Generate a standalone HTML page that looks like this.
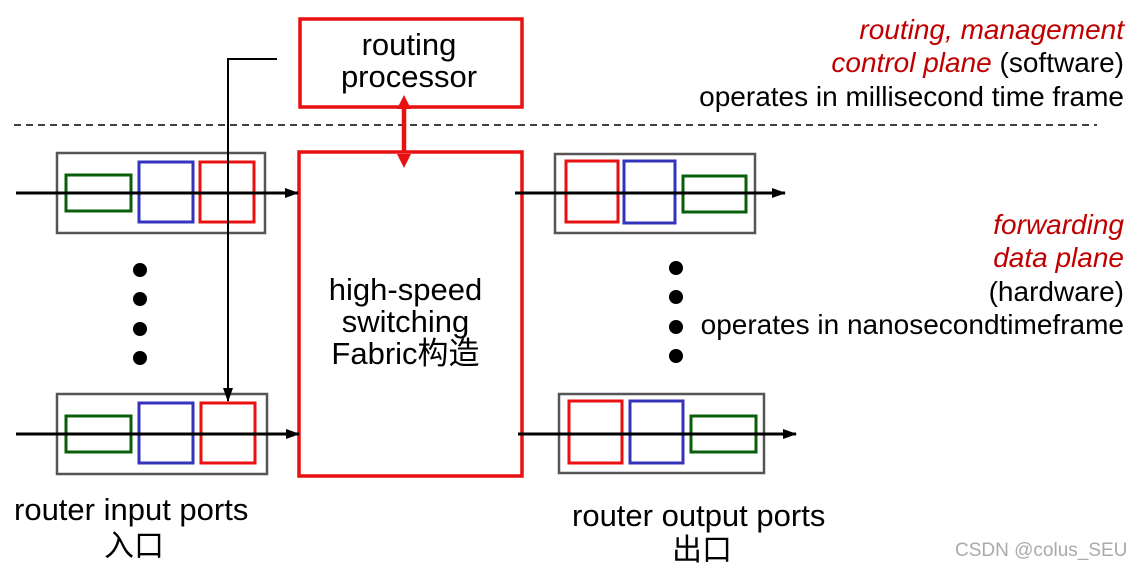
<!DOCTYPE html>
<html><head><meta charset="utf-8"><style>
body{margin:0;background:#fff;width:1143px;height:571px;overflow:hidden;font-family:"Liberation Sans","Noto Sans CJK SC",sans-serif;}
svg{position:absolute;left:0;top:0}
.t{position:absolute;font-size:28px;color:#000;white-space:nowrap;line-height:1}
.r{right:19px;text-align:right}
.i{color:#c00000;font-style:italic}
</style></head><body>
<svg width="1143" height="571">
<defs><marker id="a" markerWidth="14" markerHeight="14" refX="13" refY="7" orient="auto" markerUnits="userSpaceOnUse"><path d="M0,2 L14,7 L0,12z" fill="#000"/></marker></defs>
<line x1="14" y1="125" x2="1097" y2="125" stroke="#000" stroke-width="1.5" stroke-dasharray="7,5"/>
<rect x="300" y="19" width="222" height="88" fill="none" stroke="#e81010" stroke-width="3.5"/>
<rect x="299" y="152" width="223" height="324" fill="none" stroke="#e81010" stroke-width="3.5"/>
<line x1="404" y1="108" x2="404" y2="152" stroke="#e81010" stroke-width="4.5"/>
<path d="M397,109 L404,95 L411,109z M397,154 L404,168 L411,154z" fill="#e81010"/>
<rect x="57" y="153" width="208" height="80" fill="none" stroke="#555" stroke-width="2.5"/>
<rect x="66" y="175" width="65" height="36" fill="none" stroke="#0a5e0a" stroke-width="3"/>
<rect x="139" y="162" width="54" height="60" fill="none" stroke="#3333bb" stroke-width="3"/>
<rect x="200" y="162" width="54" height="60" fill="none" stroke="#e81010" stroke-width="3"/>
<rect x="57" y="394" width="210" height="80" fill="none" stroke="#555" stroke-width="2.5"/>
<rect x="66" y="416" width="65" height="36" fill="none" stroke="#0a5e0a" stroke-width="3"/>
<rect x="139" y="403" width="54" height="60" fill="none" stroke="#3333bb" stroke-width="3"/>
<rect x="201" y="403" width="54" height="60" fill="none" stroke="#e81010" stroke-width="3"/>
<line x1="16" y1="193" x2="298" y2="193" stroke="#000" stroke-width="3" marker-end="url(#a)"/>
<line x1="16" y1="434" x2="299" y2="434" stroke="#000" stroke-width="3" marker-end="url(#a)"/>
<polyline points="277,59 228,59 228,401" fill="none" stroke="#000" stroke-width="2" marker-end="url(#a)"/>
<rect x="555" y="154" width="200" height="79" fill="none" stroke="#555" stroke-width="2.5"/>
<rect x="566" y="161" width="52" height="61" fill="none" stroke="#e81010" stroke-width="3"/>
<rect x="624" y="161" width="51" height="62" fill="none" stroke="#3333bb" stroke-width="3"/>
<rect x="683" y="176" width="63" height="36" fill="none" stroke="#0a5e0a" stroke-width="3"/>
<rect x="559" y="394" width="205" height="79" fill="none" stroke="#555" stroke-width="2.5"/>
<rect x="569" y="401" width="53" height="62" fill="none" stroke="#e81010" stroke-width="3"/>
<rect x="630" y="401" width="53" height="62" fill="none" stroke="#3333bb" stroke-width="3"/>
<rect x="691" y="416" width="65" height="36" fill="none" stroke="#0a5e0a" stroke-width="3"/>
<line x1="515" y1="193" x2="785" y2="193" stroke="#000" stroke-width="3" marker-end="url(#a)"/>
<line x1="518" y1="434" x2="796" y2="434" stroke="#000" stroke-width="3" marker-end="url(#a)"/>
<g fill="#000"><circle cx="140" cy="270" r="7"/><circle cx="140" cy="299" r="7"/><circle cx="140" cy="329" r="7"/><circle cx="140" cy="358" r="7"/>
<circle cx="676" cy="268" r="7"/><circle cx="676" cy="297" r="7"/><circle cx="676" cy="327" r="7"/><circle cx="676" cy="356" r="7"/></g>
</svg>
<div class="t" style="left:300px;width:218px;text-align:center;top:29px;line-height:32px;font-size:31px">routing<br>processor</div>
<div class="t" style="left:299px;width:213px;text-align:center;top:274px;line-height:32px;font-size:31px">high-speed<br>switching<br>Fabric构造</div>
<div class="t r i" style="top:16px">routing, management</div>
<div class="t r" style="top:49px"><span class="i">control plane</span> (software)</div>
<div class="t r" style="top:83px">operates in millisecond time frame</div>
<div class="t r i" style="top:211px">forwarding</div>
<div class="t r i" style="top:244px">data plane</div>
<div class="t r" style="top:278px">(hardware)</div>
<div class="t r" style="top:311px">operates in nanosecondtimeframe</div>
<div class="t" style="left:14px;top:494px;font-size:31px">router input ports</div>
<div class="t" style="left:104px;top:532px;font-size:30px">入口</div>
<div class="t" style="left:572px;top:500px;font-size:31px">router output ports</div>
<div class="t" style="left:672px;top:536px;font-size:30px">出口</div>
<div class="t" style="left:955px;top:541px;font-size:19px;color:#aaa">CSDN @colus_SEU</div>
</body></html>
